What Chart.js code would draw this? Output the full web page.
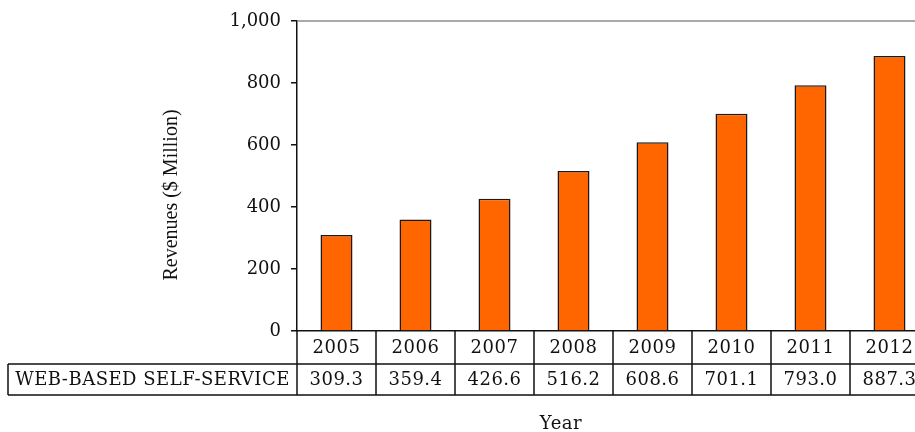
<!DOCTYPE html>
<html>
<head>
<meta charset="utf-8">
<script src="https://cdn.jsdelivr.net/npm/chart.js@4/dist/chart.umd.min.js"></script>
<style>
  html, body { margin: 0; padding: 0; background: #fff; overflow: hidden; }
  #wrap { position: relative; width: 915px; height: 432px; overflow: hidden; }
  canvas { position: absolute; left: 0; top: 0; }
</style>
</head>
<body>
<div id="wrap"><canvas id="c" width="940" height="432"></canvas></div>
<script>
// Web-based self-service revenues by year ($ million)
const years = ['2005', '2006', '2007', '2008', '2009', '2010', '2011', '2012'];
const revenue = [309.3, 359.4, 426.6, 516.2, 608.6, 701.1, 793.0, 887.3];
const seriesName = 'WEB-BASED SELF-SERVICE';
const yTicks = [0, 200, 400, 600, 800, 1000];
const yTitle = 'Revenues ($ Million)';
const xTitle = 'Year';

const SERIF_WIDE = '"DejaVu Serif", serif';
const SERIF = '"Liberation Serif", "Times New Roman", serif';

// Draws the data table under the plot, the axis titles and the top frame line
const tablePlugin = {
  id: 'dataTable',
  afterDraw(chart) {
    const ctx = chart.ctx;
    const x = chart.scales.x;
    const area = chart.chartArea;
    const step = x.getPixelForValue(1) - x.getPixelForValue(0);
    const rowTop = area.bottom;
    const rowMid = rowTop + 33;
    const rowBot = rowMid + 31;
    const labelLeft = 8;

    ctx.save();
    // top frame line
    ctx.strokeStyle = '#8c8c8c';
    ctx.lineWidth = 1.5;
    ctx.beginPath();
    ctx.moveTo(area.left, area.top);
    ctx.lineTo(area.right, area.top);
    ctx.stroke();

    // table grid
    ctx.strokeStyle = '#111';
    ctx.lineWidth = 1.5;
    ctx.beginPath();
    ctx.moveTo(labelLeft, rowMid);
    ctx.lineTo(area.right, rowMid);
    ctx.moveTo(labelLeft, rowBot);
    ctx.lineTo(area.right, rowBot);
    ctx.moveTo(labelLeft, rowMid);
    ctx.lineTo(labelLeft, rowBot);
    for (let i = 0; i <= years.length; i++) {
      const bx = x.getPixelForValue(i) - step / 2;
      ctx.moveTo(bx, rowTop);
      ctx.lineTo(bx, rowBot);
    }
    ctx.stroke();

    // table text
    ctx.fillStyle = '#111';
    ctx.textAlign = 'center';
    ctx.textBaseline = 'middle';
    ctx.font = '18px ' + SERIF_WIDE;
    ctx.letterSpacing = '0.5px';
    years.forEach((yr, i) => {
      const cx = x.getPixelForValue(i);
      ctx.fillText(yr, cx, (rowTop + rowMid) / 2 + 1);
      ctx.fillText(revenue[i].toFixed(1), cx, (rowMid + rowBot) / 2 + 1);
    });
    ctx.fillText(seriesName, (labelLeft + area.left) / 2, (rowMid + rowBot) / 2 + 1);

    // x title
    ctx.fillText(xTitle, 561, 424);
    ctx.letterSpacing = '0px';

    // y title
    ctx.font = '20px ' + SERIF;
    ctx.translate(172, 195);
    ctx.rotate(-Math.PI / 2);
    ctx.fillText(yTitle, 0, 0);
    ctx.restore();
  }
};

new Chart(document.getElementById('c'), {
  type: 'bar',
  data: {
    labels: years,
    datasets: [{
      label: seriesName,
      data: revenue,
      backgroundColor: '#FF6600',
      borderColor: '#1a1a1a',
      borderWidth: 1.5,
      categoryPercentage: 1,
      barPercentage: 0.405
    }]
  },
  options: {
    responsive: false,
    devicePixelRatio: 1,
    animation: false,
    layout: { padding: { top: 21, bottom: 101, right: 11, left: 0 } },
    plugins: {
      legend: { display: false },
      tooltip: { enabled: false }
    },
    scales: {
      x: {
        display: true,
        ticks: { display: false },
        grid: { display: false },
        border: { display: true, color: '#111', width: 1.5 },
        afterFit(s) { s.height = 0; }
      },
      y: {
        min: 0,
        max: 1000,
        afterBuildTicks(s) { s.ticks = yTicks.map(v => ({ value: v })); },
        ticks: {
          color: '#111',
          padding: 10,
          font: { family: SERIF_WIDE, size: 18 },
          callback: v => v.toLocaleString('en-US')
        },
        grid: {
          display: true,
          drawOnChartArea: false,
          drawTicks: true,
          tickLength: 6,
          color: '#111',
          lineWidth: 1.5
        },
        border: { display: true, color: '#111', width: 1.5 },
        afterFit(s) { s.width = 297; }
      }
    }
  },
  plugins: [tablePlugin]
});
</script>
</body>
</html>
